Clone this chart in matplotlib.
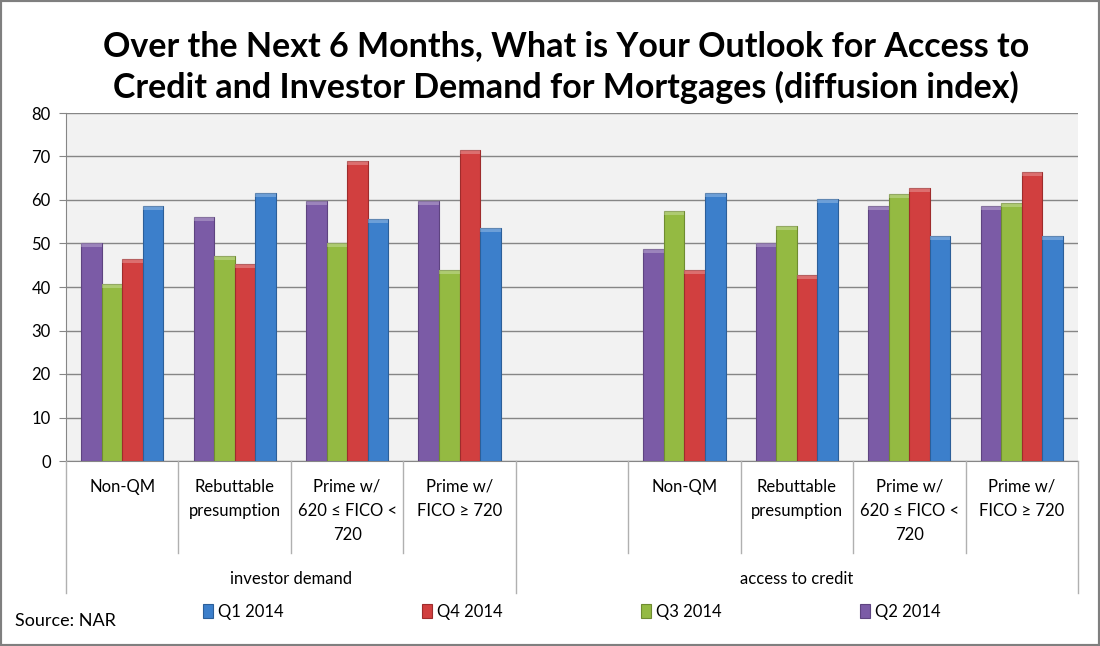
import matplotlib
matplotlib.use('Agg')
import matplotlib.pyplot as plt
import numpy as np
from matplotlib.patches import Rectangle
from matplotlib.lines import Line2D

plt.rcParams['font.family'] = ['Lato', 'DejaVu Sans']

categories = ['Non-QM', 'Rebuttable\npresumption', 'Prime w/\n620 \u2264 FICO <\n720', 'Prime w/\nFICO \u2265 720', '',
              'Non-QM', 'Rebuttable\npresumption', 'Prime w/\n620 \u2264 FICO <\n720', 'Prime w/\nFICO \u2265 720']
groups = ['investor demand', 'access to credit']
series_names = ['Q2 2014', 'Q3 2014', 'Q4 2014', 'Q1 2014']
q2_2014 = [50.0, 56.0, 59.7, 59.7, np.nan, 48.8, 50.0, 58.6, 58.6]
q3_2014 = [40.6, 47.1, 50.1, 43.8, np.nan, 57.4, 54.1, 61.4, 59.4]
q4_2014 = [46.4, 45.2, 69.0, 71.4, np.nan, 43.8, 42.7, 62.7, 66.4]
q1_2014 = [58.6, 61.7, 55.6, 53.5, np.nan, 61.7, 60.2, 51.8, 51.8]
series = [q2_2014, q3_2014, q4_2014, q1_2014]
colors = ['#7B5BA6', '#94BA42', '#D13F3F', '#3C7FCB']
edges = ['#5E4480', '#6F8C30', '#9E2C2C', '#2C5F99']
legend_order = [3, 2, 1, 0]

W, H = 1100, 646
fig = plt.figure(figsize=(11, 6.46), dpi=100)
fig.patches.append(Rectangle((0, 0), 1, 1, transform=fig.transFigure, fill=False,
                             edgecolor='#7F7F7F', linewidth=3))

x0, x1, ytop, ybot = 66, 1078, 113, 461
ax = fig.add_axes([x0 / W, 1 - ybot / H, (x1 - x0) / W, (ybot - ytop) / H])
ax.set_facecolor('#F2F2F2')
ax.set_xlim(-0.5, len(categories) - 0.5)
ax.set_ylim(0, 80)
ax.set_yticks(range(0, 81, 10))
ax.tick_params(axis='y', labelsize=12, length=5, color='#868686', pad=6)
ax.set_xticks([])
ax.grid(axis='y', color='#868686', linewidth=1)
ax.set_axisbelow(True)
for s in ['top', 'right']:
    ax.spines[s].set_visible(False)
ax.spines['left'].set_color('#868686')
ax.spines['bottom'].set_color('#868686')

x = np.arange(len(categories))
bw = 0.183
for i, vals in enumerate(series):
    ax.bar(x + (i - 1.5) * bw, vals, bw, color=colors[i], edgecolor=edges[i],
           linewidth=0.8, label=series_names[i], zorder=3)
    # light cap on top of each bar
    for xi, v in zip(x, vals):
        if np.isnan(v):
            continue
        ax.add_patch(Rectangle((xi + (i - 1.5) * bw - bw / 2, v - 0.9), bw, 0.9,
                               facecolor='white', alpha=0.25, linewidth=0, zorder=4))

# category labels and dividers below the axis
slot = (x1 - x0) / len(categories)
for k, lab in enumerate(categories):
    if lab:
        fig.text((x0 + slot * (k + 0.5)) / W, 1 - 479 / H, lab, ha='center', va='top',
                 fontsize=12, linespacing=1.6)
for k in range(len(categories) + 1):
    xp = (x0 + slot * k) / W
    y_end = 593 if k in (0, 4, 9) else 553
    fig.add_artist(Line2D([xp, xp], [1 - ybot / H, 1 - y_end / H], color='#B0B0B0', linewidth=1))
fig.text((x0 + slot * 2) / W, 1 - 579 / H, groups[0], ha='center', va='center', fontsize=12)
fig.text((x0 + slot * 6.5) / W, 1 - 579 / H, groups[1], ha='center', va='center', fontsize=12)

handles, labels = ax.get_legend_handles_labels()
fig.legend([handles[i] for i in legend_order], [labels[i] for i in legend_order],
           loc='center', bbox_to_anchor=(572 / W, 1 - 612 / H), ncol=4, frameon=False,
           fontsize=12, handlelength=0.6, handleheight=0.9, handletextpad=0.3,
           columnspacing=8.3)

fig.text(15 / W, 1 - 621 / H, 'Source: NAR', ha='left', va='center', fontsize=13)
fig.text(566 / W, 1 - 67 / H,
         'Over the Next 6 Months, What is Your Outlook for Access to\nCredit and Investor Demand for Mortgages (diffusion index)',
         ha='center', va='center', fontsize=24.5, fontweight='bold', linespacing=1.3)

fig.savefig('out.png', dpi=100)
